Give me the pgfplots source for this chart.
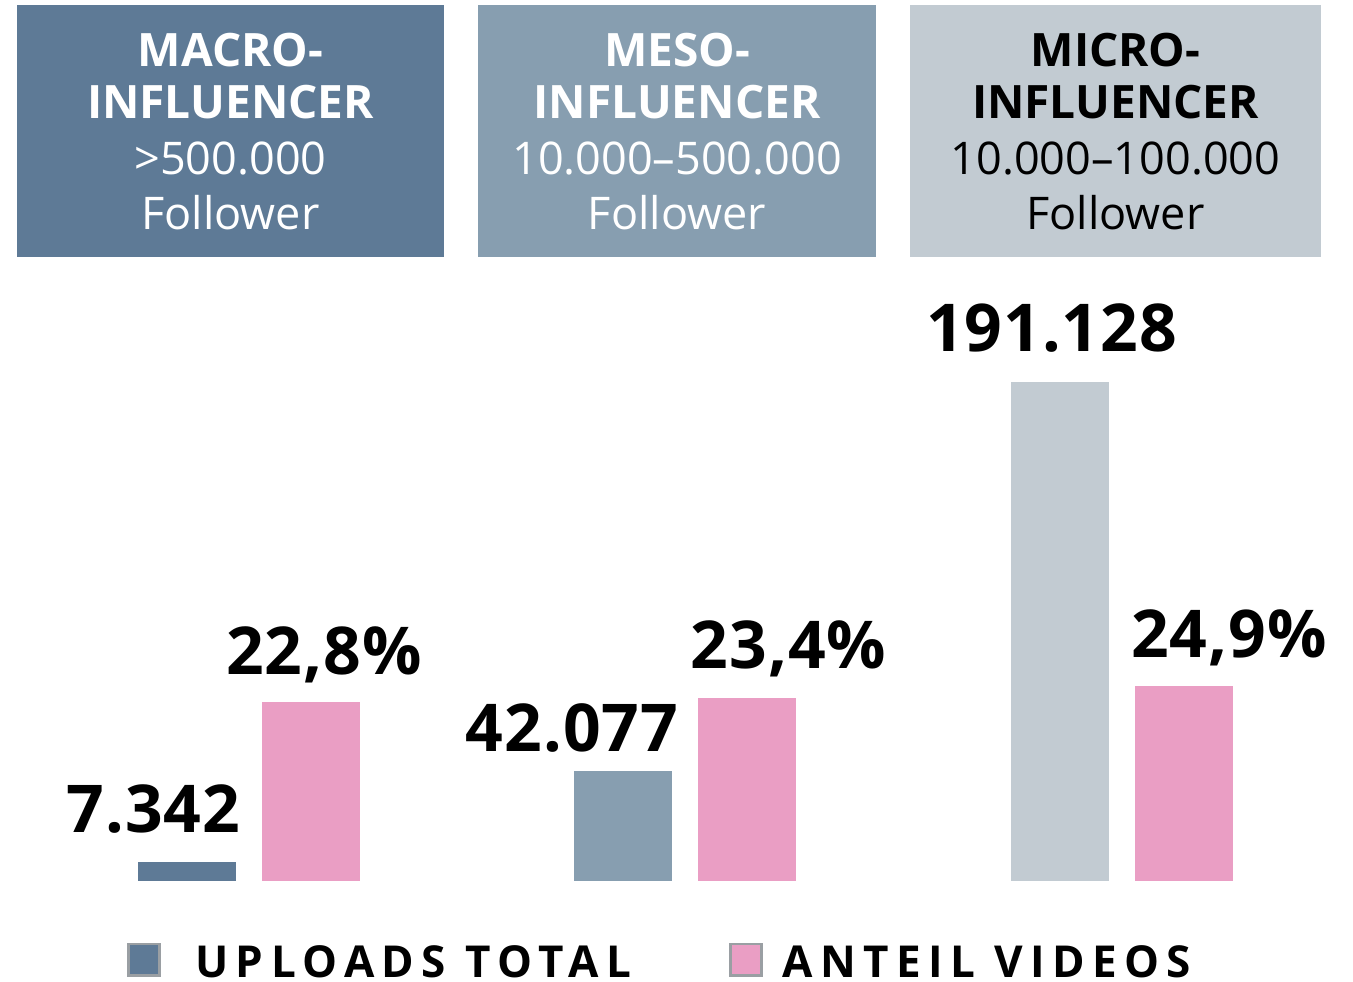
\documentclass[border=0pt]{standalone}
\usepackage{fontspec}
\setmainfont{Open Sans}
\usepackage{pgfplots}
\pgfplotsset{compat=1.18}
\definecolor{macro}{HTML}{5E7A96}
\definecolor{meso}{HTML}{879EB0}
\definecolor{micro}{HTML}{C2CBD2}
\definecolor{pinkv}{HTML}{EA9EC4}
\definecolor{legborder}{HTML}{9A9FA3}
\newcommand{\numfont}{\fontsize{66bp}{70bp}\selectfont\bfseries\addfontfeature{LetterSpace=1.5}}
\newcommand{\hb}{\fontsize{46bp}{50bp}\selectfont\bfseries}
\newcommand{\hr}{\fontsize{45bp}{50bp}\selectfont}
\newcommand{\lgfont}{\fontsize{44bp}{50bp}\selectfont\bfseries\addfontfeature{LetterSpace=17}}
\pgfplotsset{
  base/.style={
    anchor=south west, at={(30.75bp,101bp)},
    scale only axis, width=1309.5bp, height=610bp,
    xmin=-0.5, xmax=2.5, ymin=0,
    axis lines=none, ticks=none, clip=false,
    bar width=98bp,
  },
  lbl/.style 2 args={nodes near coords, point meta=explicit symbolic,
    every node near coord/.append style={anchor=base, inner sep=0pt,
      font=\numfont, text=black, xshift=#1, yshift=#2}},
}
\begin{document}
\begin{tikzpicture}
% header boxes
\fill[macro] (17bp,725bp) rectangle (444bp,977bp);
\fill[meso]  (478bp,725bp) rectangle (876bp,977bp);
\fill[micro] (910bp,725bp) rectangle (1321bp,977bp);
\foreach \x/\txt/\rng/\col in {230.5/MACRO-/{>500.000}/white, 677/MESO-/{10.000–500.000}/white, 1115.5/MICRO-/{10.000–100.000}/black}{
  \node[anchor=base, inner sep=0pt, text=\col, font=\hb] at (\x bp,915bp) {\txt};
  \node[anchor=base, inner sep=0pt, text=\col, font=\hb] at (\x bp,863bp) {INFLUENCER};
  \node[anchor=base, inner sep=0pt, text=\col, font=\hr] at (\x bp,807bp) {\rng};
  \node[anchor=base, inner sep=0pt, text=\col, font=\hr] at (\x bp,752bp) {Follower};
}
% anteil videos
\begin{axis}[base, ymax=77.8]
\addplot[ybar, bar shift=62bp, fill=pinkv, draw=none, lbl={75bp}{27.5bp}] coordinates {(0,22.8) [{22,8\%}]};
\addplot[ybar, bar shift=62bp, fill=pinkv, draw=none, lbl={103bp}{29bp}] coordinates {(1,23.4) [{23,4\%}]};
\addplot[ybar, bar shift=62bp, fill=pinkv, draw=none, lbl={107bp}{28bp}] coordinates {(2,24.9) [{24,9\%}]};
\end{axis}
% uploads total
\begin{axis}[base, ymax=233630]
\addplot[ybar, bar shift=-62bp, fill=macro, draw=none, lbl={-95.5bp}{29bp}] coordinates {(0,7342) [7.342]};
\addplot[ybar, bar shift=-62bp, fill=meso, draw=none, lbl={-113.5bp}{20bp}] coordinates {(1,42077) [42.077]};
\addplot[ybar, bar shift=-62bp, fill=micro, draw=none, lbl={-70.5bp}{30bp}] coordinates {(2,191128) [191.128]};
\end{axis}
% legend
\filldraw[fill=macro, draw=legborder, line width=2.5bp] (128.5bp,6.5bp) rectangle (159.5bp,38bp);
\node[anchor=base west, inner sep=0pt, font=\lgfont] at (195bp,4.5bp) {UPLOADS TOTAL};
\filldraw[fill=pinkv, draw=legborder, line width=2.5bp] (730.5bp,6.5bp) rectangle (761.5bp,38bp);
\node[anchor=base west, inner sep=0pt, font=\lgfont] at (782bp,4.5bp) {ANTEIL VIDEOS};
\pgfresetboundingbox
\useasboundingbox (0,0) rectangle (1353bp,982bp);
\end{tikzpicture}
\end{document}
